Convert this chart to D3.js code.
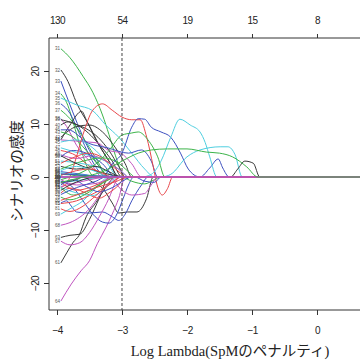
<!DOCTYPE html>
<html>
<head>
<meta charset="utf-8">
<script src="https://cdn.jsdelivr.net/npm/d3@7"></script>
<style>
  body { margin: 0; background: #fff; }
  svg { display: block; }
</style>
</head>
<body>
<div id="chart"></div>
<script>
// x ticks (log lambda) and number of non-zero coefficients on top
const logLambdaTicks = [-4, -3, -2, -1, 0];
const dfLabels = ["130", "54", "19", "15", "8"];
const coefTicks = [-20, -10, 0, 10, 20];
const chosenLogLambda = -3.0;
const minLogLambda = -3.94;

// R default palette: black, red, green3, blue, cyan, magenta
const palette = ["#3a3a3a", "#e8464a", "#3cb44a", "#3c4fc0", "#4fcfe0", "#c055c0"];

// coefficient paths, [log lambda, coefficient]
const activePaths = [
  [[-3.94,24.2],[-3.8,22.5],[-3.6,19],[-3.45,16],[-3.3,11.7],[-3.2,8],[-3.1,4],[-3.0,0.8],[-2.95,0]],
  [[-3.94,20.2],[-3.83,18],[-3.7,14],[-3.5,9.6],[-3.35,6],[-3.2,3],[-3.05,0]],
  [[-3.94,18.1],[-3.8,13.6],[-3.65,9],[-3.5,5],[-3.35,2],[-3.2,0]],
  [[-3.94,15.7],[-3.85,14],[-3.72,9],[-3.6,4],[-3.5,1],[-3.42,0]],
  [[-3.94,14.9],[-3.7,13.6],[-3.45,12.5],[-3.25,9.8],[-3.05,7.5],[-2.85,4.5],[-2.65,1.5],[-2.5,0]],
  [[-3.94,13.8],[-3.8,12],[-3.65,8],[-3.5,4],[-3.35,1],[-3.25,0]],
  [[-3.94,12.6],[-3.8,11],[-3.6,7.5],[-3.4,3.5],[-3.2,0]],
  [[-3.94,11],[-3.85,9.5],[-3.7,6],[-3.5,3],[-3.3,0]],
  [[-3.94,10.8],[-3.63,9.4],[-3.32,5.7],[-3.15,3],[-3.0,0]],
  [[-3.94,9.8],[-3.83,10.4],[-3.68,9.8],[-3.52,8.9],[-3.37,7.5],[-3.2,5],[-3.05,2],[-2.95,0]],
  [[-3.94,7],[-3.8,9.8],[-3.62,12.4],[-3.55,10.8],[-3.4,7],[-3.2,3],[-3.05,0]],
  [[-3.94,7.5],[-3.7,9.5],[-3.5,9.8],[-3.3,8.5],[-3.1,5.5],[-2.95,2.5],[-2.85,0]],
  [[-3.94,8.5],[-3.75,7.5],[-3.55,5],[-3.35,2],[-3.2,0]],
  [[-3.94,7],[-3.72,6.8],[-3.52,6.6],[-3.37,6.4],[-3.22,5.1],[-3.02,4.5],[-2.85,2.5],[-2.7,0]],
  [[-3.94,6.6],[-3.7,7],[-3.45,5.5],[-3.25,3],[-3.05,0]],
  [[-3.94,8.9],[-3.83,8.9],[-3.52,6.4],[-3.22,5.5],[-2.9,4.5],[-2.7,5.1],[-2.55,3],[-2.45,0]],
  [[-3.94,5.5],[-3.72,4.7],[-3.42,3.8],[-3.22,2.8],[-3.0,1],[-2.9,0]],
  [[-3.94,5],[-3.7,4],[-3.5,2],[-3.3,0.5],[-3.2,0]],
  [[-3.94,4.2],[-3.7,3.5],[-3.45,4],[-3.25,3],[-3.0,1],[-2.9,0]],
  [[-3.94,3.8],[-3.75,5],[-3.55,4.5],[-3.3,2.5],[-3.1,0]],
  [[-3.94,3],[-3.6,2.5],[-3.3,1.5],[-3.1,0]],
  [[-3.94,2.6],[-3.72,3.8],[-3.52,4.5],[-3.32,3.8],[-3.17,2.3],[-3.0,0.5],[-2.95,0]],
  [[-3.94,2],[-3.7,1.5],[-3.4,2],[-3.2,1],[-3.0,0]],
  [[-3.94,1.5],[-3.6,3],[-3.3,3.6],[-3.1,3],[-2.9,1],[-2.8,0]],
  [[-3.94,-2],[-3.82,-0.5],[-3.72,3],[-3.6,8],[-3.45,12.6],[-3.3,13.8],[-3.15,12.6],[-3.0,11.3],[-2.85,10.8],[-2.72,10.8],[-2.62,7.5],[-2.52,2],[-2.46,-1.5],[-2.38,-3.4],[-2.3,-2.2],[-2.22,0]],
  [[-3.94,1],[-3.6,0.5],[-3.3,0],[-3.15,2.5],[-3.0,4.5],[-2.85,9.4],[-2.75,11],[-2.65,10.9],[-2.55,9.4],[-2.4,8.5],[-2.25,7.5],[-2.1,4.5],[-1.98,1.5],[-1.8,0],[-1.65,1.7],[-1.52,3.4],[-1.45,1.7],[-1.35,0]],
  [[-3.94,-1.2],[-3.6,-0.5],[-3.2,0],[-2.7,0],[-2.55,0.5],[-2.4,3],[-2.25,7.5],[-2.11,10.9],[-1.95,9.8],[-1.8,8.5],[-1.72,6.5],[-1.65,3.8],[-1.54,0]],
  [[-3.94,0.8],[-3.5,0.3],[-3.0,0],[-2.4,0],[-2.25,0.5],[-2.0,3.8],[-1.8,5.1],[-1.49,5.7],[-1.37,5.7],[-1.26,4.2],[-1.15,0]],
  [[-3.94,-0.5],[-3.6,1],[-3.35,3],[-3.2,5],[-3.0,7.9],[-2.85,8.3],[-2.75,8.5],[-2.6,7],[-2.45,3.8],[-2.34,0]],
  [[-3.94,4],[-3.6,2],[-3.2,0.5],[-2.9,0],[-1.33,0],[-1.22,1.5],[-1.11,3.0],[-0.98,2.6],[-0.88,0]],
  [[-3.94,-16.2],[-3.85,-14.3],[-3.75,-12.3],[-3.66,-11],[-3.55,-7.5],[-3.4,-4.8],[-3.25,-2],[-3.1,0]],
  [[-3.94,-1],[-3.7,-0.5],[-3.6,0],[-3.45,-1],[-3.3,-2.1],[-3.15,-4.9],[-3.05,-6.8],[-2.92,-6.6],[-2.77,-6.6],[-2.62,-4],[-2.52,0]],
  [[-3.94,-11.4],[-3.8,-11],[-3.65,-10.8],[-3.5,-8],[-3.35,-4],[-3.2,0]],
  [[-3.94,-23.4],[-3.78,-20.2],[-3.63,-17.7],[-3.5,-15.8],[-3.38,-12.6],[-3.25,-9.6],[-3.15,-7],[-3.05,-4],[-2.95,0]],
  [[-3.94,-4.9],[-3.85,-4.5],[-3.78,-5.5],[-3.7,-6.6],[-3.5,-6.8],[-3.3,-6.6],[-3.15,-7.5],[-3.05,-8.2],[-2.95,-7],[-2.85,-4.5],[-2.7,-1.5],[-2.6,0]],
  [[-3.94,-0.8],[-3.75,-2],[-3.6,-4.5],[-3.45,-7],[-3.3,-8.5],[-3.2,-8.7],[-3.1,-7.5],[-2.98,-4],[-2.9,-1.5],[-2.82,0]],
  [[-3.94,-12.1],[-3.8,-12.8],[-3.65,-12.4],[-3.5,-10.5],[-3.35,-7.5],[-3.2,-4],[-3.1,-1],[-3.05,0]],
  [[-3.94,-9.1],[-3.8,-8.6],[-3.65,-7.6],[-3.5,-6],[-3.35,-3.5],[-3.2,-1],[-3.1,0]],
  [[-3.94,-7],[-3.8,-6],[-3.6,-4.5],[-3.4,-2],[-3.2,0]],
  [[-3.94,-3],[-3.8,-2.1],[-3.65,-2.5],[-3.5,-3.4],[-3.35,-4],[-3.2,-3],[-3.05,-1.5],[-2.95,0]],
  [[-3.94,-5],[-3.7,-4.5],[-3.5,-3.5],[-3.2,-1.5],[-3.0,0]],
  [[-3.94,0.5],[-3.5,0.2],[-3.0,0],[-2.85,-0.8],[-2.65,-1.3],[-2.5,-0.5],[-2.4,0]],
  [[-3.94,-2],[-3.75,-3.4],[-3.55,-2.8],[-3.35,-1.5],[-3.15,0]],
  [[-3.94,-1.8],[-3.6,-0.8],[-3.2,0],[-3.0,-2.5],[-2.85,-3.4],[-2.65,-3.1],[-2.55,-1.5],[-2.45,0]],
  [[-3.94,-1],[-3.7,-2.5],[-3.5,-2],[-3.3,-1],[-3.1,0]],
  [[-3.94,-2],[-3.7,-3],[-3.45,-3.5],[-3.25,-2],[-3.05,0]],
  [[-3.94,-1.5],[-3.75,-0.5],[-3.55,-1.8],[-3.35,-2.8],[-3.15,-2],[-2.95,-0.5],[-2.85,0]],
  [[-3.94,-3.8],[-3.8,-4.3],[-3.6,-3.5],[-3.4,-2],[-3.2,-0.5],[-3.1,0]],
  [[-3.94,-0.5],[-3.7,-1.5],[-3.4,-1.2],[-3.1,0]],
  [[-3.94,-2.5],[-3.8,-1.5],[-3.6,-0.5],[-3.4,0]],
  [[-3.94,-6],[-3.8,-6.5],[-3.6,-5.5],[-3.4,-3.5],[-3.2,-1.5],[-3.0,0]],
  [[-3.94,1.2],[-3.7,2],[-3.4,1],[-3.2,0]],
  [[-3.94,-3.3],[-3.7,-2],[-3.4,-0.8],[-3.25,0]],
  [[-3.94,0.3],[-3.7,1.2],[-3.5,1.5],[-3.3,0.8],[-3.15,0]],
  [[-3.94,0.6],[-3.4,0.2],[-2.8,0],[-2.65,-0.8],[-2.5,-1],[-2.4,0]],
  [[-3.94,-4.4],[-3.7,-3.4],[-3.4,-2],[-3.1,-0.9],[-2.9,0]]
];
const activeColours = [2,0,3,2,4,3,2,5,0,0,0,0,2,5,4,3,4,1,5,3,4,1,0,2,1,3,4,4,2,0,0,0,0,5,3,3,5,5,4,1,1,2,2,5,1,4,3,2,5,0,1,4,3,1,3,1];

// the paths drawn last (they sit on top of the zero line)
const lastPaths = [
  [[-3.94,0]],
  [[-3.94,-1],[-3.6,0],[-3.3,1],[-3.0,3],[-2.75,4.5],[-2.55,5.1],[-2.3,5.3],[-2.0,5.3],[-1.7,4.7],[-1.5,4.5],[-1.3,3.8],[-1.08,1.9],[-0.91,0]]
];
const lastColours = [5, 2];

// variables whose coefficient stays at zero over the shown range
const zeroVarCount = 30;

const width = 360, height = 361;
const plot = {left: 49, top: 38, bottom: 310};

const svg = d3.select("#chart").append("svg")
  .attr("width", width)
  .attr("height", height);

const x = d3.scaleLinear().domain([-4.123, 0.9]).range([plot.left, plot.left + 5.023 * 65]);
const y = d3.scaleLinear().domain([-25.094, 26.226]).range([plot.bottom, plot.top]);
const xMax = x.domain()[1];

svg.append("clipPath").attr("id", "clip")
  .append("rect")
  .attr("x", plot.left).attr("y", plot.top)
  .attr("width", width - plot.left).attr("height", plot.bottom - plot.top);

const line = d3.line()
  .x(d => x(d[0]))
  .y(d => y(d[1]))
  .curve(d3.curveMonotoneX);

const withTail = pts => pts[pts.length - 1][0] < xMax ? pts.concat([[xMax, 0]]) : pts;

const zeroPaths = d3.range(zeroVarCount).map(() => [[minLogLambda, 0]]);
const zeroColours = d3.range(zeroVarCount).map(i => i % 6);

const allPaths = zeroPaths.concat(activePaths, lastPaths);
const allColours = zeroColours.concat(activeColours, lastColours);
const zeroOnTop = allPaths.length - 2;

const g = svg.append("g").attr("clip-path", "url(#clip)");

g.selectAll("path.coef")
  .data(allPaths)
  .join("path")
  .attr("class", "coef")
  .attr("fill", "none")
  .attr("stroke", (d, i) => palette[allColours[i]])
  .attr("stroke-width", (d, i) => i === zeroOnTop ? 1.6 : 1)
  .attr("d", d => line(withTail(d)));

// variable numbers at the left end of each path
svg.append("g").selectAll("text")
  .data(allPaths)
  .join("text")
  .attr("x", x(minLogLambda) - 1)
  .attr("y", d => y(d[0][1]))
  .attr("dy", "0.35em")
  .attr("text-anchor", "end")
  .attr("font-family", "Liberation Sans, Arial, sans-serif")
  .attr("font-size", 4.5)
  .attr("fill", "#555")
  .text((d, i) => i + 1);

// chosen lambda
svg.append("line")
  .attr("x1", x(chosenLogLambda)).attr("x2", x(chosenLogLambda))
  .attr("y1", plot.top).attr("y2", plot.bottom)
  .attr("stroke", "#444")
  .attr("stroke-dasharray", "3,2");

// box
svg.append("path")
  .attr("d", `M${width + 5},${plot.top}H${plot.left}V${plot.bottom}H${width + 5}`)
  .attr("fill", "none")
  .attr("stroke", "#333");

const tickFont = sel => sel.selectAll("text")
  .attr("font-family", "Liberation Sans, Arial, sans-serif")
  .attr("font-size", 10)
  .attr("letter-spacing", "-0.6px")
  .attr("fill", "#222");

const topAxis = svg.append("g")
  .attr("transform", `translate(0,${plot.top})`)
  .call(d3.axisTop(x).tickValues(logLambdaTicks).tickFormat((d, i) => dfLabels[i]).tickSize(4).tickPadding(10.5));
topAxis.call(tickFont);

const bottomAxis = svg.append("g")
  .attr("transform", `translate(0,${plot.bottom})`)
  .call(d3.axisBottom(x).tickValues(logLambdaTicks).tickFormat(d3.format("d")).tickSize(5).tickPadding(11.5));
bottomAxis.call(tickFont);

const leftAxis = svg.append("g")
  .attr("transform", `translate(${plot.left},0)`)
  .call(d3.axisLeft(y).tickValues(coefTicks).tickSize(5));
leftAxis.call(tickFont);
leftAxis.selectAll("text")
  .attr("x", 0)
  .attr("dy", "0.35em")
  .attr("text-anchor", "middle")
  .attr("transform", "translate(-14,0) rotate(-90)");

[topAxis, bottomAxis, leftAxis].forEach(a => {
  a.select(".domain").remove();
  a.selectAll(".tick line").attr("stroke", "#333");
});

svg.append("text")
  .attr("x", 230)
  .attr("y", 356)
  .attr("text-anchor", "middle")
  .attr("font-family", "Liberation Serif, Noto Sans CJK JP, serif")
  .attr("font-size", 14.5)
  .attr("fill", "#222")
  .text("Log Lambda(SpMのペナルティ)");

svg.append("text")
  .attr("transform", "translate(22,171) rotate(-90)")
  .attr("text-anchor", "middle")
  .attr("font-family", "Noto Sans CJK JP, sans-serif")
  .attr("font-size", 14.5)
  .attr("fill", "#222")
  .text("シナリオの感度");
</script>
</body>
</html>
